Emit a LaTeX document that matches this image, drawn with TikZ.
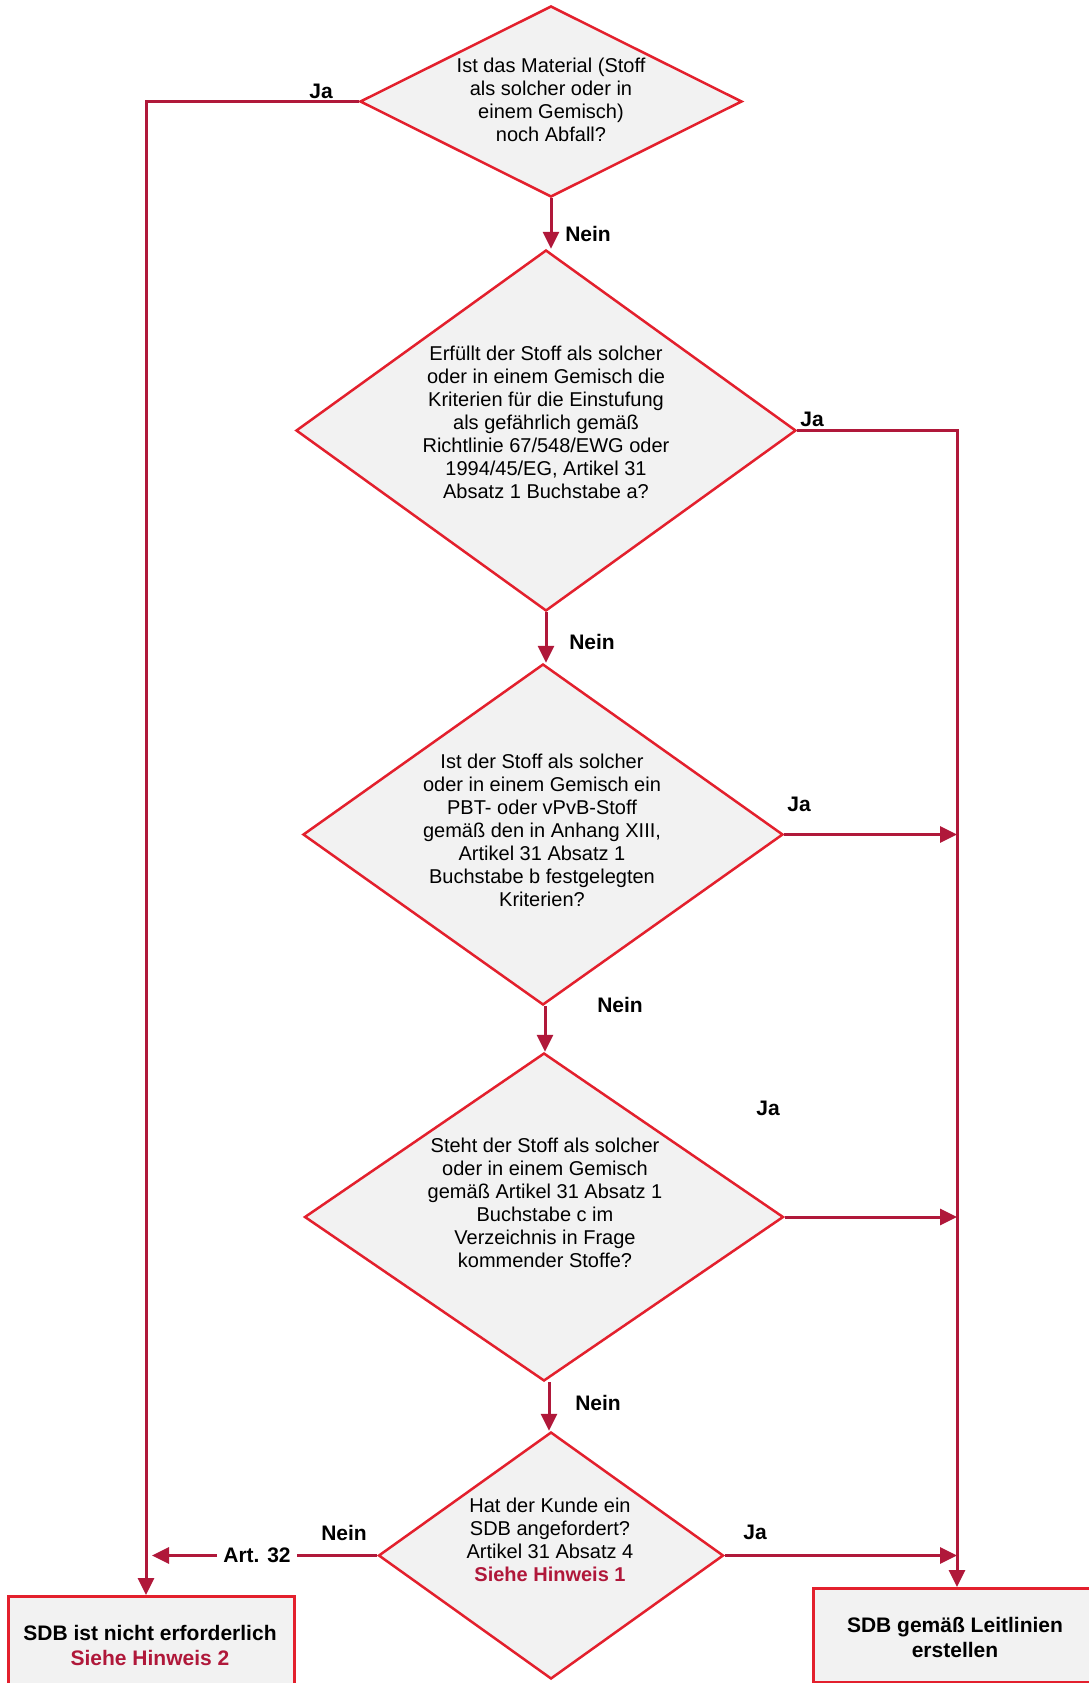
\documentclass[tikz,border=0pt]{standalone}
\usepackage{fontspec}
\setmainfont{Liberation Sans}
\usetikzlibrary{shapes.geometric,arrows.meta}
\definecolor{conn}{HTML}{B0183A}
\definecolor{bord}{HTML}{E3202D}
\definecolor{boxfill}{HTML}{F2F2F2}
\tikzset{
  dec/.style={shape=diamond,draw=bord,fill=boxfill,line width=2.5pt,inner sep=0pt},
  qtext/.style={align=center,font=\fontsize{20}{23}\selectfont,inner sep=0pt},
  endbox/.style={draw=bord,fill=boxfill,line width=3pt},
  lbl/.style={font=\fontsize{21}{24}\selectfont\bfseries,inner sep=0pt},
  con/.style={draw=conn,line width=3pt},
  arr/.style={con,-{Triangle[length=17pt,width=16pt]}},
}
\begin{document}
\begin{tikzpicture}[x=1pt,y=-1pt]
\useasboundingbox (0,0) rectangle (1089,1683);
\clip (0,0) rectangle (1089,1683);
% diamonds
\node[dec,minimum width=382pt,minimum height=191pt] (d1) at (551,101.5) {};
\node[dec,minimum width=500pt,minimum height=361pt] (d2) at (546,430.5) {};
\node[dec,minimum width=480pt,minimum height=341pt] (d3) at (543,834.5) {};
\node[dec,minimum width=479pt,minimum height=328pt] (d4) at (544,1217) {};
\node[dec,minimum width=345pt,minimum height=247pt] (d5) at (551,1555.5) {};
% texts
\node[qtext] (t1) at (551,100) {Ist das Material (Stoff\\als solcher oder in\\einem Gemisch)\\noch Abfall?};
\node[qtext] (t2) at (546,422) {Erfüllt der Stoff als solcher\\oder in einem Gemisch die\\Kriterien für die Einstufung\\als gefährlich gemäß\\Richtlinie 67/548/EWG oder\\1994/45/EG, Artikel 31\\Absatz 1 Buchstabe a?};
\node[qtext] (t3) at (542,830) {Ist der Stoff als solcher\\oder in einem Gemisch ein\\PBT- oder vPvB-Stoff\\gemäß den in Anhang XIII,\\Artikel 31 Absatz 1\\Buchstabe b festgelegten\\Kriterien?};
\node[qtext] (t4) at (545,1203) {Steht der Stoff als solcher\\oder in einem Gemisch\\gemäß Artikel 31 Absatz 1\\Buchstabe c im\\Verzeichnis in Frage\\kommender Stoffe?};
\node[qtext] (t5) at (550,1540) {Hat der Kunde ein\\SDB angefordert?\\Artikel 31 Absatz 4\\{\bfseries\color{conn}Siehe Hinweis 1}};
% end boxes
\node[endbox,minimum width=286pt,minimum height=110pt,anchor=north west] (lbox) at (7,1595) {};
\node[endbox,minimum width=290pt,minimum height=94pt,anchor=north west] (rbox) at (812,1587) {};
\node[align=center,font=\fontsize{21}{25}\selectfont\bfseries,inner sep=0pt] (lt) at (150,1645) {SDB ist nicht erforderlich\\{\color{conn}Siehe Hinweis 2}};
\node[align=center,font=\fontsize{21}{25}\selectfont\bfseries,inner sep=0pt] (rt) at (955,1637) {SDB gemäß Leitlinien\\erstellen};
% helper coordinates
\coordinate (lx) at (146,0);
\coordinate (rx) at (957,0);
\coordinate (tip) at (152,1555.5);
% connectors
\draw[arr] (d1.west) -| (lx |- lbox.north);
\draw[arr] (d2.east) -| (rx |- rbox.north);
\draw[arr] (d1.south) -- (d1.south |- d2.north);
\draw[arr] (d2.south) -- (d2.south |- d3.north);
\draw[arr] ([xshift=2pt]d3.south) -- ([xshift=2pt]d3.south |- d4.north);
\draw[arr] ([xshift=5pt]d4.south) -- ([xshift=5pt]d4.south |- d5.north);
\draw[arr] (d3.east) -- (rx |- d3.east);
\draw[arr] (d4.east) -- (rx |- d4.east);
\draw[arr] (d5.east) -- (rx |- d5.east);
\node[lbl,inner xsep=6pt,inner ysep=2pt] (art) at (257,1555.5) {Art. 32};
\draw[con] (d5.west) -- (art.east);
\draw[arr] (art.west) -- (tip);
% labels
\node[lbl] (l1) at (321,91) {Ja};
\node[lbl] (l2) at (588,234) {Nein};
\node[lbl] (l3) at (812,419) {Ja};
\node[lbl] (l4) at (592,642) {Nein};
\node[lbl] (l5) at (799,804) {Ja};
\node[lbl] (l6) at (620,1005) {Nein};
\node[lbl] (l7) at (768,1108) {Ja};
\node[lbl] (l8) at (598,1403) {Nein};
\node[lbl] (l9) at (344,1533) {Nein};
\node[lbl] (l10) at (755,1532) {Ja};
\end{tikzpicture}
\end{document}
